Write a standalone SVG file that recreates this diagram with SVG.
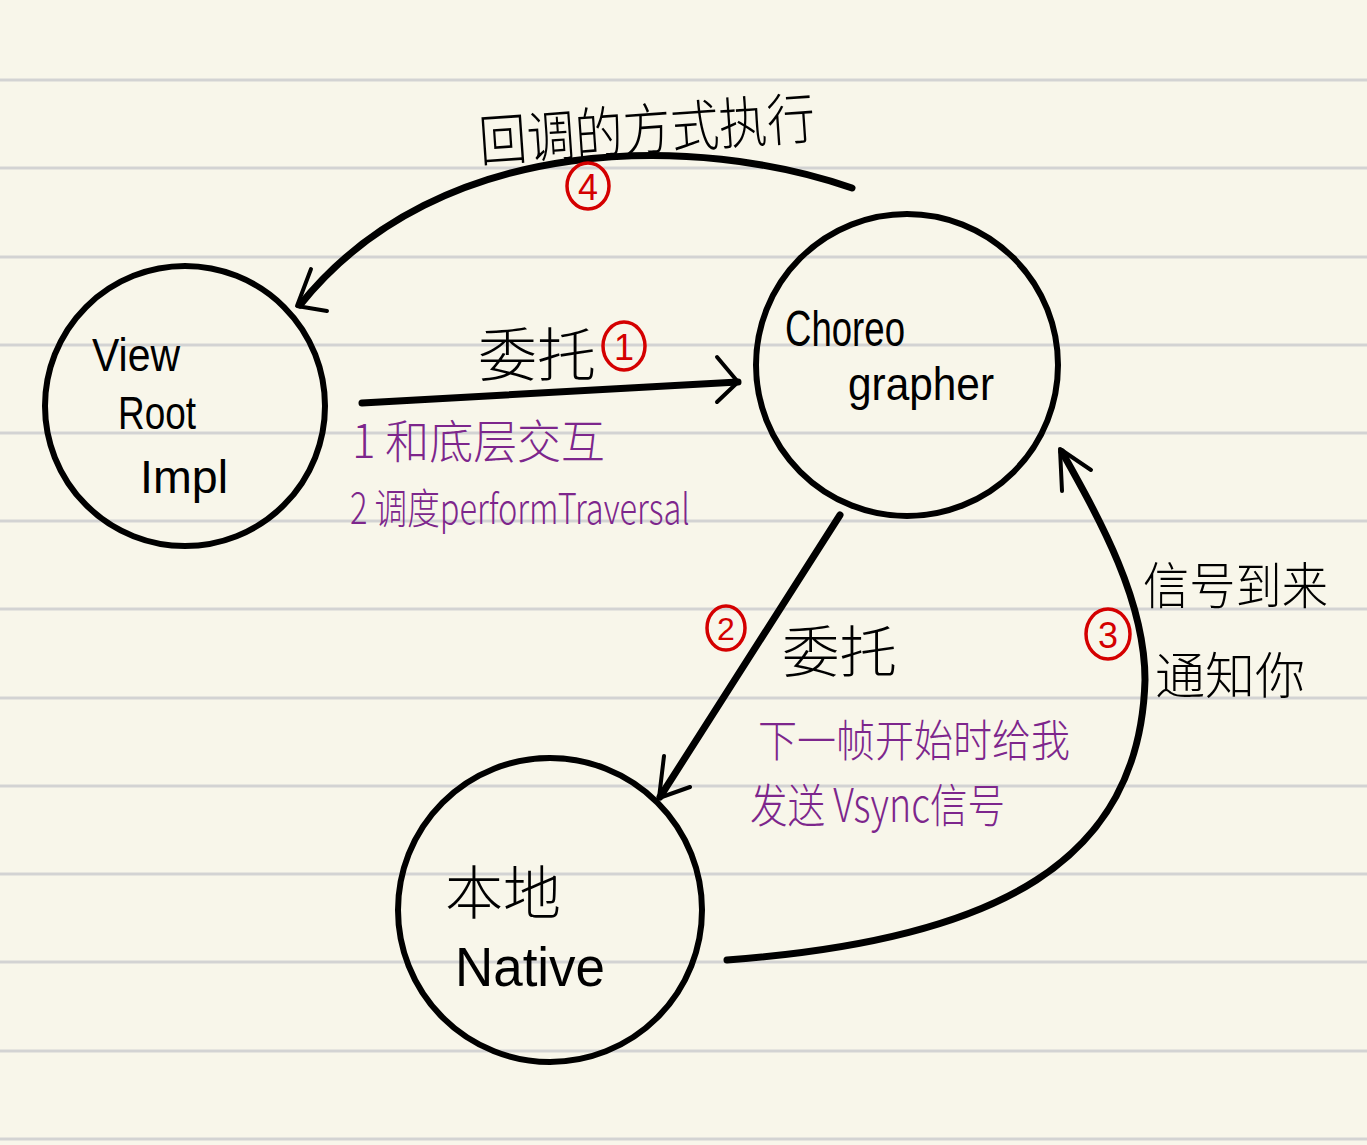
<svg xmlns="http://www.w3.org/2000/svg" width="1367" height="1145" viewBox="0 0 1367 1145">
<style>
.bg{fill:#f8f6ea}
.rule{stroke:#d3d3d3;stroke-width:3}
.node{fill:none;stroke:#000;stroke-width:6}
.conn{fill:none;stroke:#000;stroke-width:7;stroke-linecap:round;stroke-linejoin:round}
.head{fill:none;stroke:#000;stroke-width:4;stroke-linecap:round;stroke-linejoin:round}
.ink{font-family:"Liberation Sans","Noto Sans CJK SC",sans-serif;fill:#000}
.cjk{font-family:"Noto Sans CJK SC","Liberation Sans",sans-serif;fill:#000;font-weight:300}
.note{font-family:"Noto Sans CJK SC","Liberation Sans",sans-serif;fill:#7d268c;font-weight:300}
.num{fill:none;stroke:#d40000;stroke-width:3.5}
.numt{font-family:"Liberation Sans",sans-serif;fill:#d40000;text-anchor:middle}
</style>
<rect class="bg" x="0" y="0" width="1367" height="1145"/>
<g id="rules">
<line class="rule" x1="0" y1="80" x2="1367" y2="80"/>
<line class="rule" x1="0" y1="168" x2="1367" y2="168"/>
<line class="rule" x1="0" y1="257" x2="1367" y2="257"/>
<line class="rule" x1="0" y1="345" x2="1367" y2="345"/>
<line class="rule" x1="0" y1="433" x2="1367" y2="433"/>
<line class="rule" x1="0" y1="521" x2="1367" y2="521"/>
<line class="rule" x1="0" y1="609" x2="1367" y2="609"/>
<line class="rule" x1="0" y1="698" x2="1367" y2="698"/>
<line class="rule" x1="0" y1="786" x2="1367" y2="786"/>
<line class="rule" x1="0" y1="874" x2="1367" y2="874"/>
<line class="rule" x1="0" y1="962" x2="1367" y2="962"/>
<line class="rule" x1="0" y1="1051" x2="1367" y2="1051"/>
<line class="rule" x1="0" y1="1139" x2="1367" y2="1139"/>
</g>
<g id="node-viewrootimpl">
<circle class="node" cx="185" cy="406" r="140"/>
<text class="ink" x="92" y="371" font-size="46" textLength="88" lengthAdjust="spacingAndGlyphs">View</text>
<text class="ink" x="118" y="429" font-size="46" textLength="78" lengthAdjust="spacingAndGlyphs">Root</text>
<text class="ink" x="140" y="493" font-size="46" textLength="88" lengthAdjust="spacingAndGlyphs">Impl</text>
</g>
<g id="node-choreographer">
<circle class="node" cx="907" cy="365" r="151"/>
<text class="ink" x="785" y="346" font-size="50" textLength="120" lengthAdjust="spacingAndGlyphs">Choreo</text>
<text class="ink" x="848" y="400" font-size="46" textLength="146" lengthAdjust="spacingAndGlyphs">grapher</text>
</g>
<g id="node-native">
<circle class="node" cx="550" cy="910" r="152"/>
<text class="cjk" x="445" y="914" font-size="58" textLength="116" lengthAdjust="spacingAndGlyphs">本地</text>
<text class="ink" x="455" y="986" font-size="56" textLength="150" lengthAdjust="spacingAndGlyphs">Native</text>
</g>
<g id="connectors">
<path class="conn" d="M852,188 C700,135 440,130 300,305"/>
<path class="head" d="M311,269 L297,306 L327,311"/>
<path class="conn" d="M362,403 L738,382"/>
<path class="head" d="M717,357 L738,382 L717,402"/>
<path class="conn" d="M840,515 L660,797"/>
<path class="head" d="M664,756 L659,798 L690,787"/>
<path class="conn" d="M727,960 C1000,940 1140,860 1145,680 C1145,600 1100,520 1062,452"/>
<path class="head" d="M1062,491 L1060,449 L1091,470"/>
</g>
<g id="labels">
<text class="cjk" x="478" y="150" font-size="56" textLength="337" lengthAdjust="spacingAndGlyphs" transform="rotate(-4 646 125)">回调的方式执行</text>
<ellipse class="num" cx="588" cy="186" rx="21" ry="23"/>
<text class="numt" x="588" y="200" font-size="36">4</text>
<text class="cjk" x="478" y="376" font-size="58" textLength="118" lengthAdjust="spacingAndGlyphs">委托</text>
<ellipse class="num" cx="624" cy="346" rx="21" ry="24"/>
<text class="numt" x="624" y="360" font-size="36">1</text>
<text class="note" x="352" y="458" font-size="46" textLength="253" lengthAdjust="spacingAndGlyphs">1 和底层交互</text>
<text class="note" x="350" y="524" font-size="42" textLength="340" lengthAdjust="spacingAndGlyphs">2 调度performTraversal</text>
<ellipse class="num" cx="726" cy="628" rx="19" ry="22"/>
<text class="numt" x="726" y="640" font-size="32">2</text>
<text class="cjk" x="782" y="672" font-size="56" textLength="115" lengthAdjust="spacingAndGlyphs">委托</text>
<ellipse class="num" cx="1108" cy="634" rx="22" ry="25"/>
<text class="numt" x="1108" y="648" font-size="36">3</text>
<text class="cjk" x="1143" y="604" font-size="50" textLength="185" lengthAdjust="spacingAndGlyphs">信号到来</text>
<text class="cjk" x="1155" y="694" font-size="50" textLength="150" lengthAdjust="spacingAndGlyphs">通知你</text>
<text class="note" x="758" y="757" font-size="44" textLength="312" lengthAdjust="spacingAndGlyphs">下一帧开始时给我</text>
<text class="note" x="750" y="822" font-size="46" textLength="255" lengthAdjust="spacingAndGlyphs">发送 Vsync信号</text>
</g>
</svg>
